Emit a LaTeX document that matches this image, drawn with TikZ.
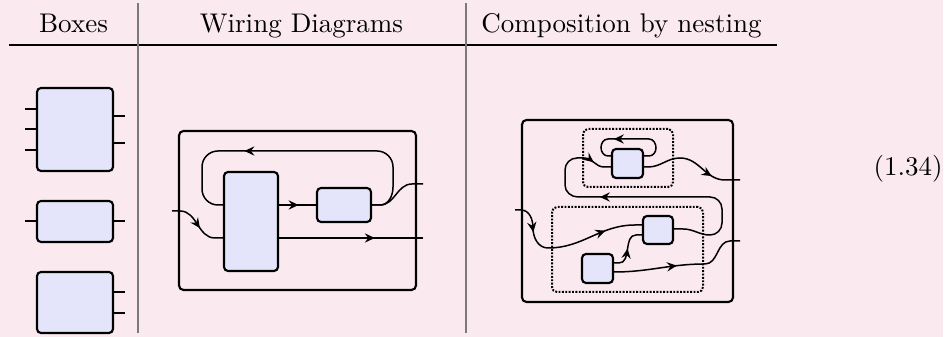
\documentclass[tikz,border=0pt]{standalone}
\usetikzlibrary{arrows.meta,decorations.markings,fit}
\definecolor{bgpink}{HTML}{FAEAF0}
\definecolor{boxfill}{HTML}{E4E4FA}
\definecolor{sepgray}{HTML}{7A7A7A}
\tikzset{
  wiretip/.tip={Stealth[length=4pt,width=3.7pt,inset=1.4pt]},
  box/.style={draw, line width=0.85pt, rounded corners=1.6pt, fill=boxfill, inner sep=0pt, fit={#1}},
  frame/.style={draw, line width=0.85pt, rounded corners=1.8pt, inner sep=0pt, fit={#1}},
  dotbox/.style={draw, line width=0.8pt, dash pattern=on 0.75pt off 0.6pt, rounded corners=2pt, inner sep=0pt, fit={#1}},
  wire/.style={line width=0.6pt},
  port/.style={line width=0.6pt},
  sepline/.style={draw=sepgray, line width=0.55pt},
  hrule/.style={line width=0.45pt},
  lbl/.style={inner sep=0pt, font=\fontsize{10.8}{13}\selectfont},
  arrowat/.style={postaction={decorate, decoration={markings, mark=at position #1 with {\arrow{wiretip}}}}}
}
\begin{document}
\begin{tikzpicture}[x=0.4pt,y=-0.4pt]
\useasboundingbox (0,0) rectangle (947,337);
\fill[white] (0,0) rectangle (947,337);
\fill[bgpink] (0,0) rectangle (943,337);

% headers
\node[lbl, anchor=base] (h1) at (73.5,33) {Boxes};
\node[lbl, anchor=base] (h2) at (301.5,33) {Wiring Diagrams};
\node[lbl, anchor=base] (h3) at (621.5,33) {Composition by nesting};
\node[lbl, anchor=base] (eq) at (908,176) {(1.34)};
\draw[hrule] (9,45) -- (777,45);
\draw[sepline] (138,3) -- (138,333);
\draw[sepline] (466,3) -- (466,333);

% Boxes column
\node[box={(37,88) (113,171)}] (b1) {};
\node[box={(37,201) (113,242)}] (b2) {};
\node[box={(37,272) (113,333)}] (b3) {};
\foreach \yy in {109,129,150} {\draw[port] (b1.west |- 0,\yy) -- ++(-11,0);}
\foreach \yy in {116,143} {\draw[port] (b1.east |- 0,\yy) -- ++(11,0);}
\draw[port] (b2.west |- 0,221) -- ++(-11,0);
\draw[port] (b2.east |- 0,221) -- ++(11,0);
\foreach \yy in {292,313} {\draw[port] (b3.east |- 0,\yy) -- ++(11,0);}

% Wiring diagram
\node[frame={(179,131) (416,290)}] (wo) {};
\node[box={(224,172) (278,271)}] (wa) {};
\node[box={(317,188) (371,222)}] (wb) {};
\coordinate (win) at (172,211);
\coordinate (wout1) at (423,184);
\coordinate (wout2) at (423,238);
\draw[wire, arrowat=0.57] (win) -- (180,211) to[out=0,in=180] (215,238) -- (wa.west |- 0,238);
\draw[wire, arrowat=0.53] (wa.east |- 0,205) -- (wb.west |- 0,205);
\draw[wire, arrowat=0.665] (wa.east |- 0,238) -- (wout2);
\draw[wire] (wb.east |- 0,205) -- (380,205) to[out=0,in=180] (412,184) -- (wout1);
\draw[wire, arrowat=0.67] (wb.east |- 0,205) -- (380,205) to[out=0,in=-90] (393,187) -- (393,167)
   to[out=90,in=0] (377,151) -- (218,151) to[out=180,in=90] (202,167) -- (202,189)
   to[out=-90,in=180] (218,205) -- (wa.west |- 0,205);

% Composition by nesting
\node[frame={(522,120) (733,302)}] (co) {};
\node[dotbox={(583,129) (673,187)}] (dt) {};
\node[dotbox={(552,207) (703,292)}] (db) {};
\node[box={(612,149) (643,178)}] (ct) {};
\node[box={(643,216) (673,244)}] (cr) {};
\node[box={(582,254) (613,283)}] (cl) {};
\coordinate (cin) at (515,210);
\coordinate (cout1) at (740,180);
\coordinate (cout2) at (740,241);

\draw[wire, arrowat=0.66] (ct.east |- 0,156) -- (649,156) to[out=0,in=-90] (656,148)
   to[out=90,in=0] (649,139) -- (608,139) to[out=180,in=90] (601,147.5)
   to[out=-90,in=180] (608,156) -- (ct.west |- 0,156);
\draw[wire, arrowat=0.72] (ct.east |- 0,167) -- (648,167) to[out=0,in=180] (680,158)
   to[out=0,in=180] (725,180) -- (cout1);
\draw[wire, arrowat=0.64, arrowat=0.94] (cr.east |- 0,229) -- (683,229) to[out=0,in=180] (710,235)
   to[out=0,in=-90] (722,223) -- (722,209) to[out=90,in=0] (710,197) -- (578,197)
   to[out=180,in=-90] (565,185) -- (565,170) to[out=90,in=180] (577,158) -- (584,158)
   to[out=0,in=180] (604,167) -- (ct.west |- 0,167);
\draw[wire, arrowat=0.22, arrowat=0.76] (cin) -- (521,210) to[out=0,in=90] (533,228)
   to[out=-90,in=180] (548,248) to[out=0,in=180] (635,225) -- (cr.west |- 0,225);
\draw[wire, arrowat=0.5] (cl.east |- 0,263) -- (619,263) to[out=0,in=180] (636,235) -- (cr.west |- 0,235);
\draw[wire, arrowat=0.46] (cl.east |- 0,272) to[out=0,in=180] (705,264) to[out=0,in=180] (730,241) -- (cout2);
\end{tikzpicture}
\end{document}
